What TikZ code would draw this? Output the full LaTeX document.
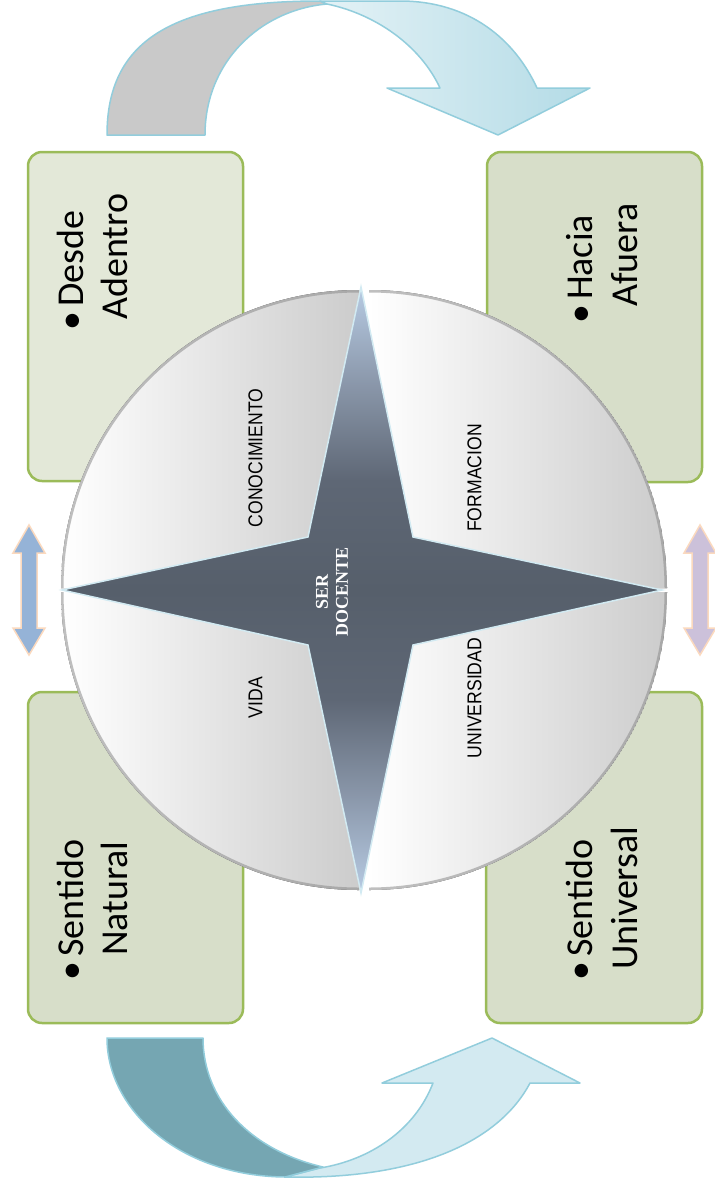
\documentclass[tikz,border=0pt]{standalone}
\usepackage{fontspec}
\setmainfont{Carlito}
\newfontfamily\labelfont{Liberation Sans}
\newfontfamily\starfont{Liberation Serif}

\definecolor{boxline}{HTML}{9BBB59}
\definecolor{boxfillA}{HTML}{E3E8D8}
\definecolor{boxfillB}{HTML}{D7DEC9}
\definecolor{ribbonline}{HTML}{92CDDC}
\definecolor{ribbongray}{HTML}{C9C9C9}
\definecolor{ribbonpale}{HTML}{E4F2F6}
\definecolor{ribbonblue}{HTML}{B3DBE6}
\definecolor{ribbondark}{HTML}{75A6B2}
\definecolor{ribbonlight}{HTML}{D3EAF1}
\definecolor{starlight}{HTML}{B7CBE3}
\definecolor{starmid}{HTML}{8A97AA}
\definecolor{starsteel}{HTML}{5E6775}
\definecolor{stardark}{HTML}{565F6B}
\definecolor{starrim}{HTML}{D2EAF2}
\definecolor{dblblue}{HTML}{95B3D7}
\definecolor{dbllilac}{HTML}{CCC1DA}
\definecolor{dblrim}{HTML}{FBD9BE}

% star fill: light at the top and bottom points, dark across the middle
\pgfdeclareverticalshading{starshade}{100bp}{%
  color(0bp)=(starlight); color(25bp)=(starlight); color(33bp)=(starmid);
  color(41bp)=(starsteel); color(50bp)=(stardark); color(59bp)=(starsteel);
  color(67bp)=(starmid); color(75bp)=(starlight); color(100bp)=(starlight)}

\begin{document}
\begin{tikzpicture}[x=1pt,y=-1pt,
  ribbon/.style={draw=ribbonline, line width=1.5pt, line join=round},
  panel/.style={rectangle, draw=boxline, line width=2.5pt, rounded corners=14pt, inner sep=0pt},
  bodytext/.style={rotate=90, anchor=base west, inner sep=0pt, font=\fontsize{38}{44}\selectfont},
  quadlabel/.style={rotate=90, inner sep=0pt, font=\labelfont\fontsize{20}{24}\selectfont},
  quadrant/.style={left color=white, right color=black!20},
  rim/.style={draw=black!45, line width=5pt, opacity=.55},
  twohead/.style={draw=dblrim, line width=1.5pt, line join=miter}]

\useasboundingbox (0,0) rectangle (715,1184);
\fill[white] (0,0) rectangle (715,1184);

% ---- upper ribbon arrow ----
\path[ribbon, fill=ribbongray]
  (107,135) .. controls (107,42) and (170,1) .. (320,1) -- (327,4)
  .. controls (260,10) and (205,62) .. (205,135) -- cycle;
\path[ribbon, left color=ribbonpale, right color=ribbonblue]
  (320,1) -- (400,1) .. controls (470,1) and (515,40) .. (537,88)
  -- (590,88) -- (498,135) -- (387,88) -- (440,88)
  .. controls (420,45) and (375,14) .. (327,4) -- cycle;

% ---- lower ribbon arrow ----
\path[ribbon, fill=ribbonlight]
  (285,1177) .. controls (420,1180) and (500,1140) .. (530,1083)
  -- (580,1083) -- (492,1038) -- (382,1083) -- (433,1083)
  .. controls (415,1130) and (370,1160) .. (320,1168) -- cycle;
\path[ribbon, fill=ribbondark]
  (107,1038) -- (203,1038) .. controls (203,1100) and (250,1150) .. (323,1167)
  -- (285,1177) .. controls (180,1176) and (107,1110) .. (107,1038) -- cycle;

% ---- side double arrows ----
\path[twohead, fill=dblblue]
  (29,525) -- (45,553) -- (37,553) -- (37,628) -- (45,628) -- (29,655)
  -- (13,628) -- (21,628) -- (21,553) -- (13,553) -- cycle;
\path[twohead, fill=dbllilac]
  (700,525) -- (716,553) -- (708,553) -- (708,628) -- (716,628) -- (700,655)
  -- (684,628) -- (692,628) -- (692,553) -- (684,553) -- cycle;

% ---- corner panels ----
\node[panel, fill=boxfillA, minimum width=215pt, minimum height=329pt] (panelTL) at (135.5,316.5) {};
\node[panel, fill=boxfillB, minimum width=215pt, minimum height=330pt] (panelTR) at (594.5,317) {};
\node[panel, fill=boxfillB, minimum width=215pt, minimum height=331pt] (panelBL) at (135.5,857.5) {};
\node[panel, fill=boxfillB, minimum width=216pt, minimum height=331pt] (panelBR) at (594,857.5) {};

\node[bodytext] (tl1) at (83,331) {\textbullet\hspace{5pt}Desde};
\node[bodytext] (tl2) at (127,320) {Adentro};
\node[bodytext] (tr1) at (592,324) {\textbullet\hspace{5pt}Hacia};
\node[bodytext] (tr2) at (637,307) {Afuera};
\node[bodytext] (bl1) at (83,981) {\textbullet\hspace{5pt}Sentido};
\node[bodytext] (bl2) at (127,956) {Natural};
\node[bodytext] (br1) at (592,981) {\textbullet\hspace{5pt}Sentido};
\node[bodytext] (br2) at (637,970) {Universal};

% ---- four quadrants of the disc ----
\begin{scope}
  \path[clip] (359,588) -- (359,290) arc[start angle=270,end angle=180,radius=298] -- cycle;
  \fill[quadrant] (359,588) -- (359,290) arc[start angle=270,end angle=180,radius=298] -- cycle;
  \draw[rim] (359,290) arc[start angle=270,end angle=180,radius=298];
\end{scope}
\begin{scope}
  \path[clip] (369,588) -- (369,290) arc[start angle=270,end angle=360,radius=298] -- cycle;
  \fill[quadrant] (369,588) -- (369,290) arc[start angle=270,end angle=360,radius=298] -- cycle;
  \draw[rim] (369,290) arc[start angle=270,end angle=360,radius=298];
\end{scope}
\begin{scope}
  \path[clip] (359,592) -- (359,890) arc[start angle=90,end angle=180,radius=298] -- cycle;
  \fill[quadrant] (359,592) -- (359,890) arc[start angle=90,end angle=180,radius=298] -- cycle;
  \draw[rim] (359,890) arc[start angle=90,end angle=180,radius=298];
\end{scope}
\begin{scope}
  \path[clip] (369,592) -- (369,890) arc[start angle=90,end angle=0,radius=298] -- cycle;
  \fill[quadrant] (369,592) -- (369,890) arc[start angle=90,end angle=0,radius=298] -- cycle;
  \draw[rim] (369,890) arc[start angle=90,end angle=0,radius=298];
\end{scope}

\node[quadlabel] (conocimiento) at (255.5,458) {\scalebox{0.88}[1]{CONOCIMIENTO}};
\node[quadlabel] (formacion) at (474.5,478) {\scalebox{0.88}[1]{FORMACION}};
\node[quadlabel] (vida) at (255.5,697.5) {\scalebox{0.88}[1]{VIDA}};
\node[quadlabel] (universidad) at (474.5,698) {\scalebox{0.88}[1]{UNIVERSIDAD}};

% ---- four-pointed star ----
\path[draw=starrim, line width=1.5pt, shading=starshade]
  (361,287) -- (413,537) -- (662,590) -- (413,645) -- (361,893)
  -- (308,645) -- (62,590) -- (308,537) -- cycle;

\node[rotate=90, align=center, inner sep=0pt, text=white,
      font=\starfont\bfseries\fontsize{18}{20}\selectfont] (core) at (332,592) {SER\\DOCENTE};

\end{tikzpicture}
\end{document}
